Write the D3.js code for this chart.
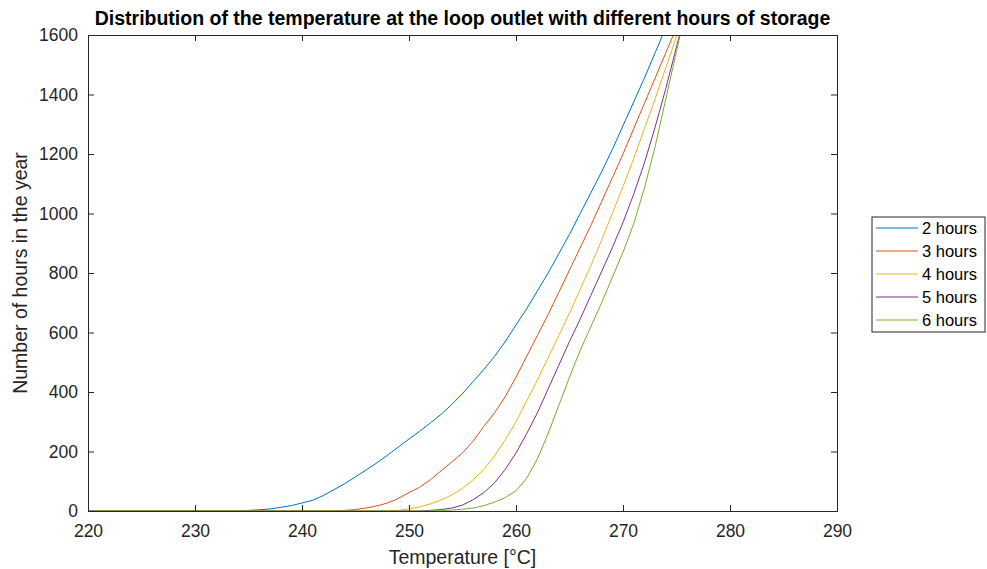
<!DOCTYPE html>
<html>
<head>
<meta charset="utf-8">
<script src="https://cdn.jsdelivr.net/npm/d3@7"></script>
<style>
  body { margin: 0; background: #fff; }
  svg { font-family: 'Liberation Sans', Arial, sans-serif; }
</style>
</head>
<body>
<div id="chart"></div>
<script>
// temperatures, 1 degree steps
let temps = d3.range(220, 277)

// hours in the year at each temperature
let hours2 = [0, 0, 0, 0, 0, 0, 0, 0, 0, 0, 0, 0, 0, 0, 0,
  2, 4, 7, 12, 18, 27, 36, 52, 72, 92, 115, 138, 162, 188, 215,
  242, 268, 296, 325, 358, 395, 435, 476, 520, 570, 625, 680, 740, 800, 865,
  930, 1000, 1070, 1140, 1215, 1295, 1375, 1455, 1540, 1625, 1700, 1780]
let hours3 = [0, 0, 0, 0, 0, 0, 0, 0, 0, 0, 0, 0, 0, 0, 0,
  0, 0, 0, 0, 0, 0, 0, 0, 0, 2, 5, 10, 17, 27, 42,
  62, 80, 105, 135, 165, 195, 235, 285, 330, 385, 450, 520, 590, 660, 735,
  810, 885, 960, 1040, 1120, 1200, 1285, 1370, 1455, 1540, 1625, 1700]
let hours4 = [0, 0, 0, 0, 0, 0, 0, 0, 0, 0, 0, 0, 0, 0, 0,
  0, 0, 0, 0, 0, 0, 0, 0, 0, 0, 0, 0, 0, 0, 2,
  7, 14, 24, 37, 54, 76, 105, 140, 185, 240, 300, 370, 440, 515, 590,
  665, 745, 825, 910, 1000, 1090, 1185, 1285, 1385, 1490, 1595, 1700]
let hours5 = [0, 0, 0, 0, 0, 0, 0, 0, 0, 0, 0, 0, 0, 0, 0,
  0, 0, 0, 0, 0, 0, 0, 0, 0, 0, 0, 0, 0, 0, 0,
  0, 0, 2, 5, 10, 20, 38, 62, 95, 140, 195, 260, 330, 410, 490,
  570, 645, 725, 805, 885, 970, 1065, 1170, 1290, 1420, 1560, 1700]
let hours6 = [0, 0, 0, 0, 0, 0, 0, 0, 0, 0, 0, 0, 0, 0, 0,
  0, 0, 0, 0, 0, 0, 0, 0, 0, 0, 0, 0, 0, 0, 0,
  0, 0, 0, 1, 3, 6, 10, 18, 30, 45, 68, 110, 175, 260, 355,
  450, 540, 620, 700, 785, 870, 965, 1085, 1225, 1385, 1545, 1710]

let seriesNames = ['2 hours', '3 hours', '4 hours', '5 hours', '6 hours']
let seriesValues = [hours2, hours3, hours4, hours5, hours6]
let colors = ['#0072BD', '#D95319', '#EDB120', '#7E2F8E', '#77AC30']

let xTicks = [220, 230, 240, 250, 260, 270, 280, 290]
let yTicks = [0, 200, 400, 600, 800, 1000, 1200, 1400, 1600]

let margin = { top: 35, left: 88, right: 150, bottom: 58 }
let width = 987 - margin.left - margin.right
let height = 569 - margin.top - margin.bottom

let svg = d3
  .select('#chart')
  .append('svg')
  .attr('width', 987)
  .attr('height', 569)

let g = svg
  .append('g')
  .attr('transform', 'translate(' + margin.left + ',' + margin.top + ')')

let x = d3.scaleLinear().domain([220, 290]).range([0, width])
let y = d3.scaleLinear().domain([0, 1600]).range([height, 0])

g.append('clipPath')
  .attr('id', 'plot-clip')
  .append('rect')
  .attr('width', width)
  .attr('height', height)

let line = d3
  .line()
  .x((d, i) => x(temps[i]))
  .y(d => y(d))

g.append('g')
  .attr('clip-path', 'url(#plot-clip)')
  .selectAll('.series')
  .data(seriesValues)
  .enter()
  .append('path')
  .attr('class', 'series')
  .attr('d', line)
  .attr('fill', 'none')
  .attr('stroke', (d, i) => colors[i])
  .attr('stroke-width', 1)

// axes, MATLAB style: ticks pointing in, box all round
let axisColor = '#262626'

let xAxis = g
  .append('g')
  .attr('transform', 'translate(0,' + height + ')')
  .call(d3.axisBottom(x).tickValues(xTicks).tickSize(-6).tickPadding(14))
let xAxisTop = g
  .append('g')
  .call(d3.axisTop(x).tickValues(xTicks).tickSize(-6).tickFormat(''))
let yAxis = g
  .append('g')
  .call(d3.axisLeft(y).tickValues(yTicks).tickSize(-6).tickPadding(10).tickFormat(d3.format('d')))
let yAxisRight = g
  .append('g')
  .attr('transform', 'translate(' + width + ',0)')
  .call(d3.axisRight(y).tickValues(yTicks).tickSize(-6).tickFormat(''))

;[xAxis, xAxisTop, yAxis, yAxisRight].forEach(a => {
  a.selectAll('.domain').attr('stroke', axisColor)
  a.selectAll('.tick line').attr('stroke', axisColor)
  a.selectAll('.tick text')
    .attr('fill', axisColor)
    .attr('font-size', 17.5)
    .attr('font-family', "'Liberation Sans', Arial, sans-serif")
})

svg
  .append('text')
  .attr('x', margin.left + width / 2)
  .attr('y', 25)
  .attr('text-anchor', 'middle')
  .attr('font-size', 19.5)
  .attr('font-weight', 'bold')
  .attr('fill', '#000')
  .text('Distribution of the temperature at the loop outlet with different hours of storage')

svg
  .append('text')
  .attr('x', margin.left + width / 2)
  .attr('y', 564)
  .attr('text-anchor', 'middle')
  .attr('font-size', 19.5)
  .attr('fill', axisColor)
  .text('Temperature [°C]')

svg
  .append('text')
  .attr('transform', 'translate(27,' + (margin.top + height / 2) + ') rotate(-90)')
  .attr('text-anchor', 'middle')
  .attr('font-size', 19.5)
  .attr('fill', axisColor)
  .text('Number of hours in the year')

// legend
let legend = svg.append('g').attr('transform', 'translate(872,217)')

legend
  .append('rect')
  .attr('width', 113)
  .attr('height', 115)
  .attr('fill', '#fff')
  .attr('stroke', axisColor)
  .attr('stroke-width', 1)

let rows = legend
  .selectAll('.legend-row')
  .data(seriesNames)
  .enter()
  .append('g')
  .attr('class', 'legend-row')
  .attr('transform', (d, i) => 'translate(0,' + (11 + i * 23) + ')')

rows
  .append('line')
  .attr('x1', 4)
  .attr('x2', 46)
  .attr('stroke', (d, i) => colors[i])
  .attr('stroke-width', 1)

rows
  .append('text')
  .attr('x', 50)
  .attr('dy', '0.35em')
  .attr('font-size', 16.5)
  .attr('fill', '#000')
  .text(d => d)
</script>
</body>
</html>
